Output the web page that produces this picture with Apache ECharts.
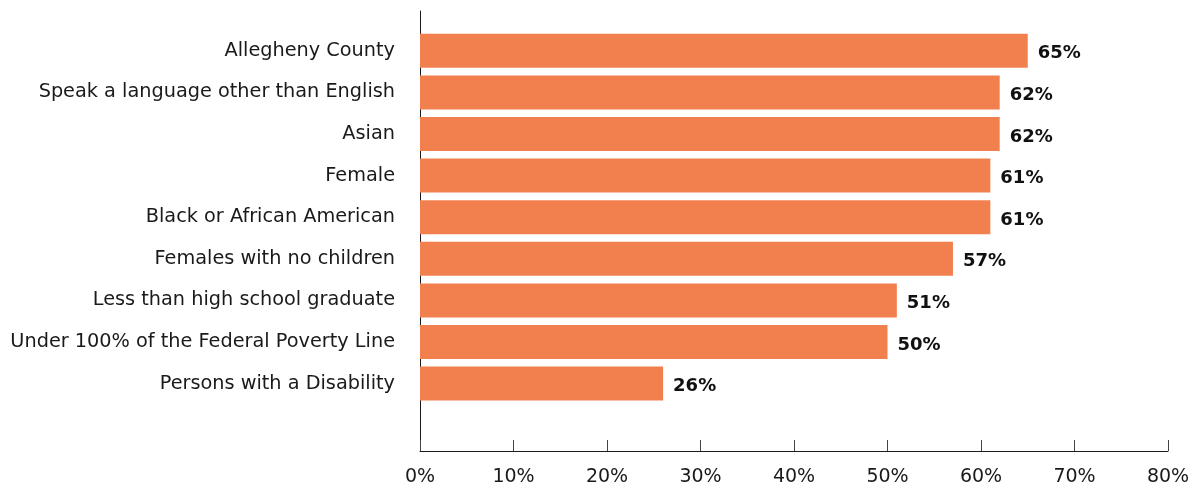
<!DOCTYPE html>
<html>
<head>
<meta charset="utf-8">
<script src="https://cdn.jsdelivr.net/npm/echarts@6/dist/echarts.min.js"></script>
<style>
  html, body { margin: 0; padding: 0; background: #fff; }
  #chart { width: 1199px; height: 491px; }
</style>
</head>
<body>
<div id="chart"></div>
<script>
// Share of each group (percent), top to bottom
const categories = [
  'Allegheny County',
  'Speak a language other than English',
  'Asian',
  'Female',
  'Black or African American',
  'Females with no children',
  'Less than high school graduate',
  'Under 100% of the Federal Poverty Line',
  'Persons with a Disability'
];
const values = [65, 62, 62, 61, 61, 57, 51, 50, 26];
const xTicks = [0, 10, 20, 30, 40, 50, 60, 70, 80];

const FONT = 'DejaVu Sans';
const chart = echarts.init(document.getElementById('chart'));

// a blank slot at the bottom leaves room above the x axis
const cats = categories.concat(['']);
const data = values.concat([null]);

chart.setOption({
  animation: false,
  textStyle: { fontFamily: FONT },
  grid: [
    // bars
    { left: 420, right: 31, top: 30, height: 416 },
    // visible axes frame
    { left: 420, right: 31, top: 11, bottom: 40 }
  ],
  xAxis: [
    { gridIndex: 0, type: 'value', min: xTicks[0], max: xTicks[xTicks.length - 1], interval: 10, show: false },
    {
      gridIndex: 1, type: 'value', min: xTicks[0], max: xTicks[xTicks.length - 1], interval: 10,
      axisLine: { show: true, lineStyle: { color: '#1a1a1a', width: 1 } },
      axisTick: { show: true, inside: true, length: 11, lineStyle: { color: '#444', width: 1 } },
      splitLine: { show: false },
      axisLabel: {
        color: '#1a1a1a', fontSize: 19, margin: 17, fontFamily: FONT,
        formatter: v => v + '%'
      }
    }
  ],
  yAxis: [
    {
      gridIndex: 0, type: 'category', data: cats, inverse: true,
      axisLine: { show: false }, axisTick: { show: false },
      axisLabel: { color: '#1a1a1a', fontSize: 19.3, margin: 25, fontFamily: FONT }
    },
    {
      gridIndex: 1, type: 'value', min: 0, max: 1,
      axisLine: { show: true, lineStyle: { color: '#1a1a1a', width: 1 } },
      axisTick: { show: false }, axisLabel: { show: false }, splitLine: { show: false }
    }
  ],
  series: [
    {
      type: 'bar',
      xAxisIndex: 0, yAxisIndex: 0,
      data: data,
      barWidth: 34,
      itemStyle: { color: '#F2804E' },
      label: {
        show: true, position: 'right', distance: 10,
        color: '#111', fontSize: 18, fontWeight: 'bold', fontFamily: FONT,
        offset: [0, 3],
        formatter: p => p.value + '%'
      }
    }
  ]
});
</script>
</body>
</html>
